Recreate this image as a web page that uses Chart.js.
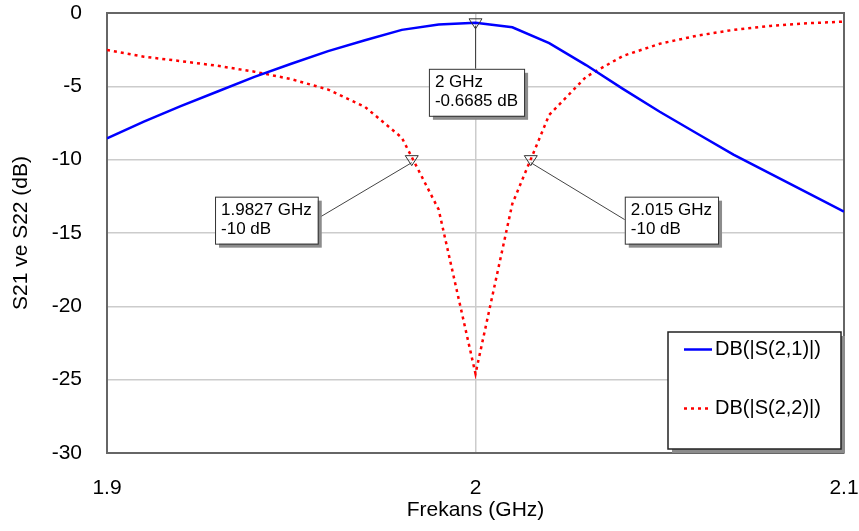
<!DOCTYPE html>
<html>
<head>
<meta charset="utf-8">
<script src="https://cdn.jsdelivr.net/npm/chart.js@4"></script>
<style>
  html, body { margin: 0; padding: 0; background: #fff; }
  #wrap { width: 859px; height: 531px; }
</style>
</head>
<body>
<div id="wrap"><canvas id="sparamChart"></canvas></div>
<script>
// frequency sweep (GHz) and simulated responses (dB)
const freqs = [1.90, 1.91, 1.92, 1.93, 1.94, 1.95, 1.96, 1.97, 1.98, 1.99, 2.00,
               2.01, 2.02, 2.03, 2.04, 2.05, 2.06, 2.07, 2.08, 2.09, 2.10]
const s21 = [-8.54, -7.4, -6.35, -5.35, -4.35, -3.46, -2.6, -1.86, -1.15, -0.78, -0.67,
             -0.97, -2.05, -3.55, -5.17, -6.73, -8.2, -9.65, -10.95, -12.25, -13.54]
const s22 = [-2.52, -2.98, -3.28, -3.6, -4.0, -4.51, -5.22, -6.4, -8.5, -13.4, -24.6,
             -13.0, -6.95, -4.35, -2.93, -2.1, -1.55, -1.15, -0.88, -0.7, -0.59]
const seriesNames = ['DB(|S(2,1)|)', 'DB(|S(2,2)|)']

// markers
const markerFreqs = [1.9827, 2, 2.015]
const markerValues = [-10, -0.6685, -10]

const xTicks = [1.9, 2, 2.1]
const yMin = -30
const yMax = 0

const FONT = '"Liberation Sans", Arial, sans-serif'

const toPoints = (ys) => freqs.map((f, i) => ({ x: f, y: ys[i] }))

// where each marker label box sits relative to its marker (pixels)
const boxPlacement = [
  { side: 'left', dx: -94, dy: 37 },
  { side: 'below', dx: 1, dy: 46 },
  { side: 'right', dx: 94, dy: 37 }
]

const framePlugin = {
  id: 'frame',
  beforeDatasetsDraw(chart) {
    const { ctx, chartArea: a } = chart
    ctx.save()
    ctx.strokeStyle = '#666'
    ctx.lineWidth = 2
    ctx.beginPath()
    ctx.moveTo(a.left, a.top)
    ctx.lineTo(a.right, a.top)
    ctx.lineTo(a.right, a.bottom)
    ctx.stroke()
    ctx.restore()
  }
}

const markerPlugin = {
  id: 'markers',
  afterDatasetsDraw(chart) {
    const ctx = chart.ctx
    const xs = chart.scales.x
    const ys = chart.scales.y
    ctx.save()
    ctx.font = '17px ' + FONT
    markerFreqs.forEach((f, i) => {
      const px = xs.getPixelForValue(f)
      const py = ys.getPixelForValue(markerValues[i])
      const lines = [`${f} GHz`, `${markerValues[i]} dB`]
      const w = Math.max(...lines.map((t) => ctx.measureText(t).width)) + 12
      const h = 47
      const pl = boxPlacement[i]
      let bx
      if (pl.side === 'left') bx = px + pl.dx - w
      else if (pl.side === 'right') bx = px + pl.dx
      else bx = px + pl.dx - w / 2
      const by = py + pl.dy

      // leader line
      ctx.strokeStyle = '#444'
      ctx.lineWidth = 1
      ctx.beginPath()
      ctx.moveTo(px, py + 3)
      if (pl.side === 'left') ctx.lineTo(bx + w + 3, by + 20)
      else if (pl.side === 'right') ctx.lineTo(bx, by + 23)
      else ctx.lineTo(px, by)
      ctx.stroke()

      // triangle
      ctx.strokeStyle = '#333'
      ctx.beginPath()
      ctx.moveTo(px - 6.5, py - 4)
      ctx.lineTo(px + 6.5, py - 4)
      ctx.lineTo(px, py + 6)
      ctx.closePath()
      ctx.stroke()

      // box with shadow
      ctx.fillStyle = '#8c8c8c'
      ctx.fillRect(bx + 4, by + 4, w, h)
      ctx.fillStyle = '#fff'
      ctx.fillRect(bx, by, w, h)
      ctx.strokeStyle = '#333'
      ctx.strokeRect(bx + 0.5, by + 0.5, w, h)

      ctx.fillStyle = '#000'
      ctx.textBaseline = 'middle'
      ctx.textAlign = 'left'
      ctx.fillText(lines[0], bx + 6, by + 14)
      ctx.fillText(lines[1], bx + 6, by + 33)
    })
    ctx.restore()
  }
}

const legendPlugin = {
  id: 'boxLegend',
  afterDatasetsDraw(chart) {
    const { ctx, chartArea: a } = chart
    const w = 173
    const h = 117
    const bx = a.right - 3 - w
    const by = a.bottom - 4 - h
    ctx.save()
    ctx.fillStyle = '#8c8c8c'
    ctx.fillRect(bx + 4, by + 4, w, h)
    ctx.fillStyle = '#fff'
    ctx.fillRect(bx, by, w, h)
    ctx.strokeStyle = '#222'
    ctx.lineWidth = 1.5
    ctx.strokeRect(bx, by, w, h)
    ctx.font = '20px ' + FONT
    ctx.textBaseline = 'middle'
    ctx.fillStyle = '#000'
    chart.data.datasets.forEach((ds, i) => {
      const ly = by + 17.5 + i * 59
      ctx.strokeStyle = ds.borderColor
      ctx.lineWidth = ds.borderWidth
      ctx.setLineDash(ds.borderDash || [])
      ctx.beginPath()
      ctx.moveTo(bx + 16, ly)
      ctx.lineTo(bx + 44, ly)
      ctx.stroke()
      ctx.setLineDash([])
      ctx.fillText(ds.label, bx + 47, ly)
    })
    ctx.restore()
  }
}

new Chart(document.getElementById('sparamChart'), {
  type: 'line',
  data: {
    datasets: [
      {
        label: seriesNames[0],
        data: toPoints(s21),
        borderColor: '#0000ff',
        borderWidth: 2.5,
        pointRadius: 0,
        tension: 0
      },
      {
        label: seriesNames[1],
        data: toPoints(s22),
        borderColor: '#ff0000',
        borderWidth: 2.5,
        borderDash: [3, 4],
        pointRadius: 0,
        tension: 0
      }
    ]
  },
  options: {
    responsive: true,
    maintainAspectRatio: false,
    devicePixelRatio: 1,
    animation: false,
    layout: { padding: { top: 13, right: 15, left: 0, bottom: 0 } },
    plugins: {
      legend: { display: false },
      tooltip: { enabled: false }
    },
    scales: {
      x: {
        type: 'linear',
        min: xTicks[0],
        max: xTicks[xTicks.length - 1],
        afterBuildTicks: (scale) => { scale.ticks = xTicks.map((v) => ({ value: v })) },
        afterFit: (scale) => {
          scale.height = 78
          scale.paddingLeft = 0
          scale.paddingRight = 0
        },
        ticks: {
          padding: 23,
          color: '#000',
          font: { family: FONT, size: 21 },
          maxRotation: 0,
          callback: (v) => String(+v.toFixed(2))
        },
        grid: {
          drawTicks: false,
          color: (c) => (c.tick && Math.abs(c.tick.value - 2) < 1e-6 ? '#cccccc' : 'rgba(0,0,0,0)'),
          lineWidth: 1.5
        },
        border: { display: true, color: '#666', width: 2 },
        title: {
          display: true,
          text: 'Frekans (GHz)',
          color: '#000',
          font: { family: FONT, size: 21 },
          padding: { top: 0, bottom: 8 }
        }
      },
      y: {
        min: yMin,
        max: yMax,
        afterFit: (scale) => {
          scale.width = 107
          scale.paddingTop = 0
          scale.paddingBottom = 0
        },
        ticks: {
          stepSize: 5,
          padding: 25,
          color: '#000',
          font: { family: FONT, size: 21 }
        },
        grid: {
          drawTicks: false,
          color: (c) => (c.tick && (c.tick.value === yMin || c.tick.value === yMax) ? 'rgba(0,0,0,0)' : '#cccccc'),
          lineWidth: 1.5
        },
        border: { display: true, color: '#666', width: 2 },
        title: {
          display: true,
          text: 'S21 ve S22 (dB)',
          color: '#000',
          font: { family: FONT, size: 21 },
          padding: { top: 9, bottom: 0 }
        }
      }
    }
  },
  plugins: [framePlugin, markerPlugin, legendPlugin]
})
</script>
</body>
</html>
